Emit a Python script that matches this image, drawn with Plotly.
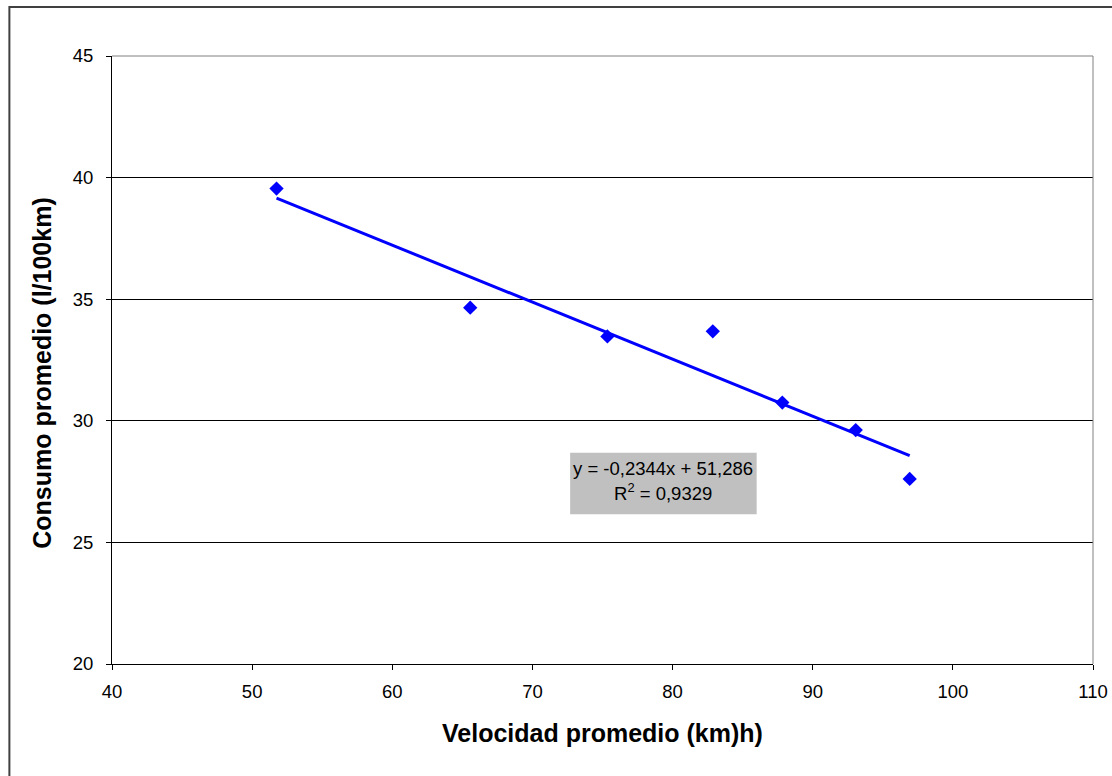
import plotly.graph_objects as go

# Average speed (km/h) and average consumption (l/100km)
velocidad = [51.74, 65.56, 75.35, 82.87, 87.83, 93.07, 96.92]
consumo = [39.55, 34.65, 33.47, 33.68, 30.75, 29.62, 27.61]

# Linear trend as reported on the chart
pendiente = -0.2344
ordenada = 51.286
r2 = 0.9329

x_ticks = [40, 50, 60, 70, 80, 90, 100, 110]
y_ticks = [20, 25, 30, 35, 40, 45]

tx = [min(velocidad), max(velocidad)]
ty = [pendiente * v + ordenada for v in tx]

fig = go.Figure()

fig.add_trace(go.Scatter(
    x=tx, y=ty, mode="lines",
    line=dict(color="#0000FF", width=3),
    showlegend=False, hoverinfo="skip",
))
fig.add_trace(go.Scatter(
    x=velocidad, y=consumo, mode="markers",
    marker=dict(symbol="diamond", size=11, color="#0000FF", line=dict(width=0)),
    showlegend=False,
))

font = "Arial, Liberation Sans, sans-serif"

fig.update_layout(
    width=1112, height=776,
    margin=dict(l=112, r=19, t=56, b=112),
    paper_bgcolor="white", plot_bgcolor="white",
    font=dict(family=font, size=18, color="black"),
    xaxis=dict(
        range=[40, 110], tickvals=x_ticks, ticktext=[str(v) for v in x_ticks],
        showgrid=False, zeroline=False, automargin=False,
        showline=True, linecolor="black", linewidth=1,
        ticks="outside", ticklen=5, tickcolor="black", tickwidth=1,
        tickfont=dict(size=18.5), ticklabelstandoff=6,
    ),
    yaxis=dict(
        range=[20, 45], tickvals=y_ticks, ticktext=[str(v) for v in y_ticks],
        showgrid=True, gridcolor="black", gridwidth=1, zeroline=False, automargin=False,
        showline=True, linecolor="black", linewidth=1,
        ticks="outside", ticklen=5, tickcolor="black", tickwidth=1,
        tickfont=dict(size=18.5), ticklabelstandoff=9,
    ),
)

# Plot-area border (top and right) in grey
fig.add_shape(type="line", xref="paper", yref="paper", x0=0, x1=1, y0=1, y1=1,
              line=dict(color="#808080", width=1))
fig.add_shape(type="line", xref="paper", yref="paper", x0=1, x1=1, y0=0, y1=1,
              line=dict(color="#808080", width=1))

# Chart-area frame (left and top edges)
fig.add_shape(type="path", xref="paper", yref="paper",
              path="M -0.1046,-0.2 L -0.1046,1.0806 L 1.1,1.0806",
              line=dict(color="#404040", width=2))

# Grey box behind the regression equation
fig.add_shape(type="rect", xref="x", yref="y", x0=72.69, x1=86.0, y0=26.16, y1=28.69,
              fillcolor="#C0C0C0", line=dict(width=0), layer="below")

fig.add_annotation(x=79.35, y=28.05, xref="x", yref="y", showarrow=False,
                   text="y = -0,2344x + 51,286", font=dict(size=18.5))
fig.add_annotation(x=79.35, y=27.06, xref="x", yref="y", showarrow=False,
                   text="R<sup>2</sup> = 0,9329", font=dict(size=18.5))

# Axis titles
fig.add_annotation(x=0.5, y=-0.114, xref="paper", yref="paper", showarrow=False,
                   text="<b>Velocidad promedio (km)h)</b>", font=dict(size=25),
                   yanchor="middle")
fig.add_annotation(x=-0.071, y=0.478, xref="paper", yref="paper", showarrow=False,
                   text="<b>Consumo promedio (l/100km)</b>", font=dict(size=25),
                   textangle=-90, xanchor="center", yanchor="middle")

fig.write_html("out.html")
